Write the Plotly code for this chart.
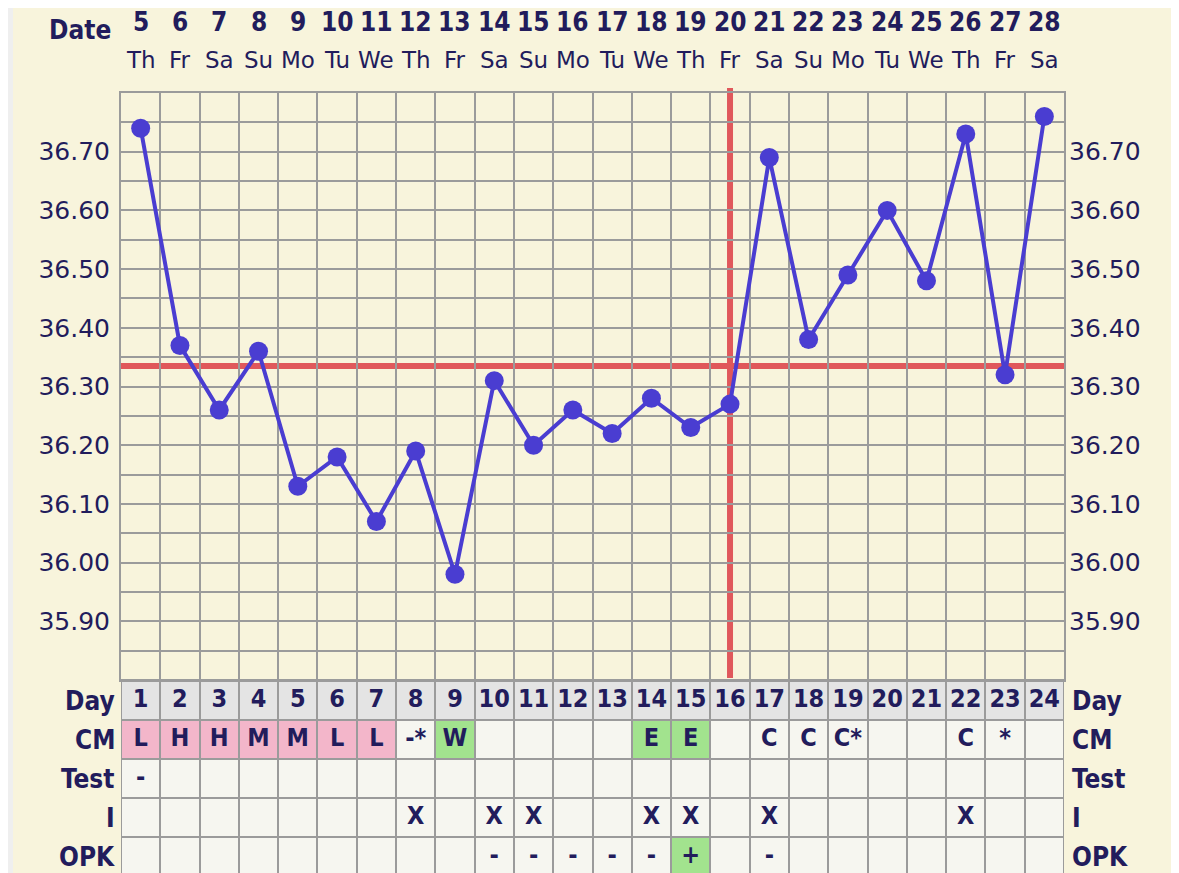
import plotly.graph_objects as go

# Chart data
days = list(range(1, 25))
dates = list(range(5, 29))
weekdays = ["Th", "Fr", "Sa", "Su", "Mo", "Tu", "We",
            "Th", "Fr", "Sa", "Su", "Mo", "Tu", "We",
            "Th", "Fr", "Sa", "Su", "Mo", "Tu", "We",
            "Th", "Fr", "Sa"]
temps = [36.74, 36.37, 36.26, 36.36, 36.13, 36.18, 36.07, 36.19, 35.98, 36.31,
         36.20, 36.26, 36.22, 36.28, 36.23, 36.27, 36.69, 36.38, 36.49, 36.60,
         36.48, 36.73, 36.32, 36.76]
coverline = 36.335
ovulation_day = 16
cm = ["L", "H", "H", "M", "M", "L", "L", "-*", "W", "", "", "", "", "E", "E", "",
      "C", "C", "C*", "", "", "C", "*", ""]
test = ["-"] + [""] * 23
intercourse = ["", "", "", "", "", "", "", "X", "", "X", "X", "", "", "X", "X", "",
               "X", "", "", "", "", "X", "", ""]
opk = ["", "", "", "", "", "", "", "", "", "-", "-", "-", "-", "-", "+", "",
       "-", "", "", "", "", "", "", ""]
row_names = ["Day", "CM", "Test", "I", "OPK"]
temp_ticks = [round(35.80 + 0.05 * i, 2) for i in range(21)]

# Colours
CREAM = "#F8F4DC"
GRID = "#9B9B9B"
NAVY = "#221C5C"
LINE = "#4A3DD1"
RED = "#E0585B"
EMPTY = "#F6F6F0"
DAYGRAY = "#E4E4E4"
PINK = "#F3B6CA"
GREEN = "#A2E38E"

BOLD = "DejaVu Sans Condensed"
PLAIN = "DejaVu Sans"

# the page puts the figure 8px in from the top-left corner
OFF = 8
W, H = 1179 - OFF, 873 - OFF
L_PX, R_PX = 121, 1064


def py(p):
    return 1 - (p - OFF) / H


def px(p):
    return (p - L_PX) / (R_PX - L_PX)


# table cell colour codes: 0 empty, 1 day row, 2 menstrual, 3 fertile
def cm_code(c):
    if c in ("L", "M", "H"):
        return 2
    if c in ("W", "E"):
        return 3
    return 0


z = [[1] * 24,
     [cm_code(c) for c in cm],
     [0] * 24,
     [0] * 24,
     [3 if o == "+" else 0 for o in opk]]
colorscale = [[0, EMPTY], [0.17, EMPTY], [0.17, DAYGRAY], [0.5, DAYGRAY],
              [0.5, PINK], [0.83, PINK], [0.83, GREEN], [1, GREEN]]

fig = go.Figure()

fig.add_trace(go.Heatmap(x=days, y=list(range(5)), z=z, zmin=0, zmax=3,
                         colorscale=colorscale, showscale=False, xgap=2, ygap=2,
                         hoverinfo="skip", xaxis="x2", yaxis="y2"))

row_texts = [[str(d) for d in days], cm, test, intercourse, opk]
for r, texts in enumerate(row_texts):
    fig.add_trace(go.Scatter(x=days, y=[r] * 24, text=texts, mode="text",
                             textfont=dict(family=BOLD, size=25, color=NAVY, weight="bold"),
                             textposition="middle center", hoverinfo="skip",
                             xaxis="x2", yaxis="y2", showlegend=False))

fig.add_trace(go.Scatter(x=days, y=temps, mode="lines+markers",
                         line=dict(color=LINE, width=4),
                         marker=dict(color=LINE, size=19),
                         showlegend=False, xaxis="x", yaxis="y"))
# invisible trace for the right-hand axis
fig.add_trace(go.Scatter(x=days, y=temps, mode="markers", marker=dict(opacity=0),
                         hoverinfo="skip", showlegend=False, xaxis="x", yaxis="y3"))

temp_text = [f"{v:.2f}" if (abs(round(v * 10) - v * 10) < 1e-6 and 35.85 < v < 36.75) else ""
             for v in temp_ticks]

shapes = [
    dict(type="rect", xref="paper", yref="paper", x0=px(0), x1=px(13), y0=0, y1=1,
         fillcolor="#EFEFEF", line_width=0, layer="below"),
    dict(type="rect", xref="paper", yref="paper", x0=px(1173), x1=px(1185), y0=0, y1=1,
         fillcolor="#EFEFEF", line_width=0, layer="below"),
    dict(type="rect", xref="paper", yref="paper", x0=0, x1=1, y0=0, y1=py(679),
         fillcolor=GRID, line_width=0, layer="below"),
    dict(type="line", xref="paper", yref="y", x0=0, x1=1, y0=coverline, y1=coverline,
         line=dict(color=RED, width=6), layer="between"),
    dict(type="line", xref="x", yref="paper", x0=ovulation_day, x1=ovulation_day,
         y0=py(678), y1=py(88), line=dict(color=RED, width=6), layer="between"),
]

annotations = [dict(text="Date", xref="paper", yref="paper", x=px(113), y=py(30),
                    xanchor="right", yanchor="middle", showarrow=False,
                    font=dict(family=BOLD, size=26, color=NAVY, weight="bold"))]
for d, dt, wd in zip(days, dates, weekdays):
    annotations.append(dict(text=str(dt), xref="x", yref="paper", x=d, y=py(22),
                            showarrow=False, yanchor="middle",
                            font=dict(family=BOLD, size=26, color=NAVY, weight="bold")))
    annotations.append(dict(text=wd, xref="x", yref="paper", x=d, y=py(60),
                            showarrow=False, yanchor="middle",
                            font=dict(family=PLAIN, size=23, color=NAVY)))
for r, name in enumerate(row_names):
    annotations.append(dict(text=name, xref="paper", yref="y2", x=px(117), y=r,
                            xanchor="right", yanchor="middle", showarrow=False,
                            font=dict(family=BOLD, size=26, color=NAVY, weight="bold")))
    annotations.append(dict(text=name, xref="paper", yref="y2", x=px(1070), y=r,
                            xanchor="left", yanchor="middle", showarrow=False,
                            font=dict(family=BOLD, size=26, color=NAVY, weight="bold")))

grid_x = [d - 0.5 for d in days] + [24.5]
tick_font = dict(family=PLAIN, size=25, color=NAVY)

fig.update_layout(
    width=W, height=H, autosize=False,
    margin=dict(l=L_PX - OFF, r=1179 - R_PX, t=0, b=0),
    paper_bgcolor=CREAM, plot_bgcolor=CREAM,
    xaxis=dict(domain=[0, 1], range=[0.5, 24.5], tickvals=grid_x, showticklabels=False,
               showgrid=True, gridcolor=GRID, gridwidth=2, zeroline=False, ticks="",
               showline=True, mirror=True, linecolor=GRID, linewidth=2, anchor="y"),
    yaxis=dict(domain=[py(680), py(93)], range=[35.80, 36.80], tickvals=temp_ticks,
               ticktext=temp_text, showgrid=True, gridcolor=GRID, gridwidth=2,
               zeroline=False, ticks="", showline=True, mirror=True, linecolor=GRID,
               linewidth=2, tickfont=tick_font, ticklabelstandoff=4, anchor="x"),
    yaxis3=dict(overlaying="y", side="right", matches="y", range=[35.80, 36.80],
                tickvals=temp_ticks, ticktext=temp_text, showgrid=False, zeroline=False,
                ticks="", tickfont=tick_font, ticklabelstandoff=4, anchor="x"),
    xaxis2=dict(domain=[0, 1], range=[0.5, 24.5], matches="x", showticklabels=False,
                showgrid=False, zeroline=False, ticks="", anchor="y2"),
    yaxis2=dict(domain=[0, py(681)], range=[4.423, -0.5], showticklabels=False,
                showgrid=False, zeroline=False, ticks="", anchor="x2"),
    shapes=shapes, annotations=annotations,
)

fig.write_html("out.html")
